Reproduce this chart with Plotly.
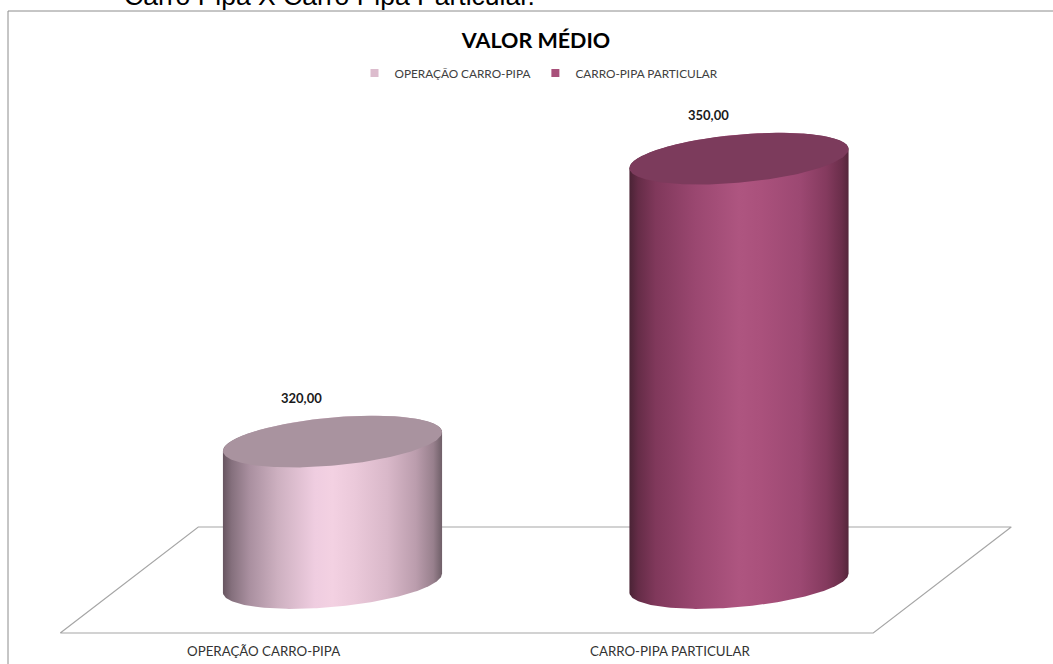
import numpy as np
import plotly.graph_objects as go

# ---------------- data ----------------
categories = ["OPERAÇÃO CARRO-PIPA", "CARRO-PIPA PARTICULAR"]
values = [320.00, 350.00]
value_labels = ["320,00", "350,00"]
title_text = "VALOR MÉDIO"
caption_text = "Carro Pipa X Carro Pipa Particular."

# ---------------- layout geometry / styles ----------------
W, H = 1053, 664
BASE = 305.0            # value-axis floor
PX_PER_UNIT = 9.43      # vertical scale (px per value unit)
BASE_PX = 583           # pixel row of the floor at cylinder centres
CAT0_PX = 332.5         # pixel column of first category
PX_PER_CAT = 406.5      # px between categories

x_range = [-CAT0_PX / PX_PER_CAT, (W - CAT0_PX) / PX_PER_CAT]
y_range = [BASE - (H - BASE_PX) / PX_PER_UNIT, BASE + BASE_PX / PX_PER_UNIT]

A_PX, B_PX, TILT = 110.0, 24.0, np.deg2rad(5.2)
P = A_PX * np.cos(TILT); Q = B_PX * np.sin(TILT)
R = A_PX * np.sin(TILT); S = B_PX * np.cos(TILT)
T_RIGHT = np.arctan2(-Q, P)

body_scales = [
    [[0, '#675560'], [0.04, '#85707d'], [0.12, '#a98f9f'], [0.25, '#cdb0c0'],
     [0.42, '#efcde0'], [0.5, '#f3d1e2'], [0.6, '#ebc9da'], [0.75, '#d9b8c9'],
     [0.88, '#bb9dad'], [0.96, '#98808d'], [1, '#6f5f68']],
    [[0, '#4a2335'], [0.04, '#652c47'], [0.12, '#80385b'], [0.3, '#9a4770'],
     [0.5, '#ae5580'], [0.6, '#aa517c'], [0.78, '#9c4872'], [0.9, '#843a5e'],
     [0.97, '#6a2e4a'], [1, '#55263b']],
]
top_colors = ['#a9939f', '#7c3b5c']
legend_colors = ['#dcbccd', '#a8507a']


def ellipse(cx, cy, t):
    x = cx + (P * np.cos(t) - Q * np.sin(t)) / PX_PER_CAT
    y = cy + (R * np.cos(t) + S * np.sin(t)) / PX_PER_UNIT
    return x, y


fig = go.Figure()

# floor
floor_shift = 69 / PX_PER_CAT
back_y = BASE + 56 / PX_PER_UNIT
front_y = BASE - 50 / PX_PER_UNIT
left_x = -0.5
right_x = len(categories) - 1 + 0.5
fig.add_trace(go.Scatter(
    x=[left_x - floor_shift, left_x + floor_shift, right_x + floor_shift, right_x - floor_shift, left_x - floor_shift],
    y=[front_y, back_y, back_y, front_y, front_y],
    mode='lines', line=dict(color='#a6a6a6', width=1.2), fill='toself', fillcolor='white',
    hoverinfo='skip', showlegend=False))

for i, (cat, v) in enumerate(zip(categories, values)):
    t_top = np.linspace(T_RIGHT + np.pi, T_RIGHT, 120)
    t_bot = np.linspace(T_RIGHT, T_RIGHT - np.pi, 120)
    xt, yt = ellipse(i, v, t_top)
    xb, yb = ellipse(i, BASE, t_bot)
    xs = np.concatenate([xt, xb, xt[:1]])
    ys = np.concatenate([yt, yb, yt[:1]])
    fig.add_trace(go.Scatter(
        x=xs, y=ys, mode='lines', line=dict(width=0), fill='toself',
        fillgradient=dict(type='horizontal', colorscale=body_scales[i]),
        hoverinfo='skip', showlegend=False))
    tt = np.linspace(0, 2 * np.pi, 240)
    xe, ye = ellipse(i, v, tt)
    fig.add_trace(go.Scatter(
        x=xe, y=ye, mode='lines', line=dict(width=0), fill='toself',
        fillcolor=top_colors[i], hoverinfo='skip', showlegend=False))
    # legend entry
    fig.add_trace(go.Scatter(
        x=[None], y=[None], mode='markers', name=cat,
        marker=dict(symbol='square', size=8, color=legend_colors[i])))
    # value label
    fig.add_annotation(
        x=i - 31 / PX_PER_CAT, y=v + 44 / PX_PER_UNIT, text=f"<b>{value_labels[i]}</b>",
        showarrow=False, font=dict(family='Lato', size=13, color='#1a1a1a'))
    # category label
    fig.add_annotation(
        x=i - floor_shift, y=BASE - 68 / PX_PER_UNIT, text=cat,
        showarrow=False, font=dict(family='Lato', size=13.3, color='#333333'))

# caption text partially cut at the top (as in the reference)
fig.add_annotation(
    xref='paper', yref='paper', x=122 / W, y=1 - 13 / H, xanchor='left', yanchor='bottom',
    text=caption_text, showarrow=False,
    font=dict(family='Liberation Sans, Arial', size=26.5, color='#000000'))

# chart border (left and top edges visible)
fig.add_shape(type='line', xref='paper', yref='paper', x0=8 / W, x1=8 / W, y0=0, y1=1 - 11 / H,
              line=dict(color='#8c8c8c', width=1))
fig.add_shape(type='line', xref='paper', yref='paper', x0=8 / W, x1=1, y0=1 - 11 / H, y1=1 - 11 / H,
              line=dict(color='#8c8c8c', width=1))

fig.update_layout(
    width=W, height=H,
    margin=dict(l=0, r=0, t=0, b=0),
    paper_bgcolor='white', plot_bgcolor='white',
    title=dict(text=f"<b>{title_text}</b>", x=536 / W, xanchor='center', y=1 - 40 / H, yanchor='middle',
               font=dict(family='Lato', size=21.5, color='#000000')),
    legend=dict(orientation='h', x=539 / W, xanchor='center', y=1 - 73 / H, yanchor='middle',
                font=dict(family='Lato', size=11.8, color='#404040'), itemwidth=30,
                bgcolor='rgba(0,0,0,0)'),
    xaxis=dict(range=x_range, visible=False, fixedrange=True),
    yaxis=dict(range=y_range, visible=False, fixedrange=True),
    showlegend=True,
)

fig.write_html("out.html")
